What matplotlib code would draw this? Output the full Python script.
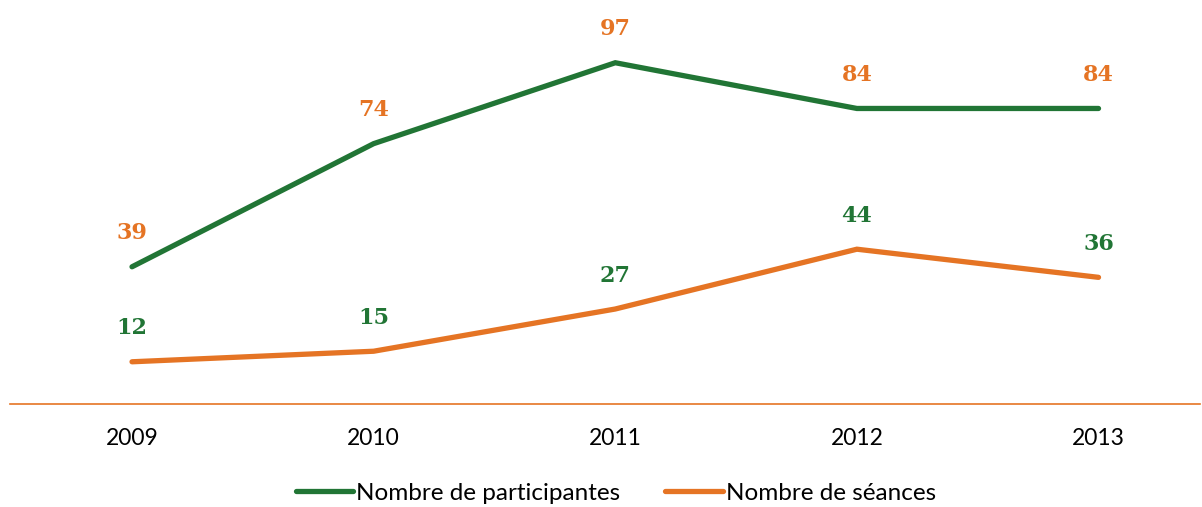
import matplotlib.pyplot as plt

years = ["2009", "2010", "2011", "2012", "2013"]
participantes = [39, 74, 97, 84, 84]
seances = [12, 15, 27, 44, 36]

green = "#217535"
orange = "#E57424"

fig = plt.figure(figsize=(12.02, 5.07), dpi=100)
ax = fig.add_axes([10/1202, 1 - 404/507, 1190/1202, 387/507])

x = range(len(years))
ax.plot(x, participantes, color=green, lw=3.8, solid_capstyle="round", solid_joinstyle="miter",
        label="Nombre de participantes")
ax.plot(x, seances, color=orange, lw=3.8, solid_capstyle="round", solid_joinstyle="miter",
        label="Nombre de séances")

# labels colored with the other series' color, as in the source
for i, v in enumerate(participantes):
    ax.annotate(str(v), (i, v), xytext=(0, 24), textcoords="offset points", ha="center", va="center",
                color=orange, fontsize=16, fontweight="bold", family="DejaVu Serif")
for i, v in enumerate(seances):
    ax.annotate(str(v), (i, v), xytext=(0, 24), textcoords="offset points", ha="center", va="center",
                color=green, fontsize=16, fontweight="bold", family="DejaVu Serif")

ax.set_xlim(-0.505, 4.42)
ax.set_ylim(0, 110)
ax.set_xticks(list(x))
ax.set_xticklabels(years, fontsize=16.5, family="Lato")
ax.tick_params(axis="x", length=0, pad=17)
ax.set_yticks([])
for s in ["top", "right", "left"]:
    ax.spines[s].set_visible(False)
ax.spines["bottom"].set_color(orange)
ax.spines["bottom"].set_linewidth(1.2)

leg = ax.legend(loc="center", bbox_to_anchor=(616/1202, 1 - 493/507), bbox_transform=fig.transFigure,
                ncol=2, frameon=False, prop={"family": "Lato", "size": 17.5},
                handlelength=2.35, handletextpad=0.12, columnspacing=1.85)

fig.savefig("out.png", dpi=100)
